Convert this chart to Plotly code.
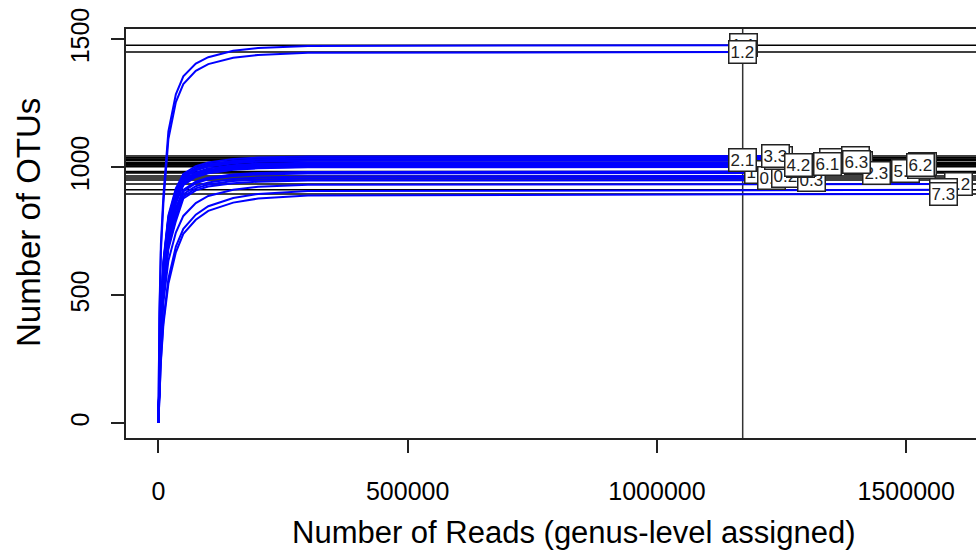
import plotly.graph_objects as go

# Subsampling depths (reads) at which rarefied richness was evaluated
depths = [1, 2000, 5000, 10000, 20000, 35000, 50000, 75000, 100000, 150000, 200000, 300000]

# Samples in the order their labels are drawn (later labels sit on top)
samples = ["1.1", "1.2", "1.3", "0.1", "2.1", "0.2", "3.2", "3.3", "0.3", "4.1", "4.2", "3.1",
           "6.1", "2.2", "5.3", "2.3", "6.3", "5.1", "4.3", "5.2", "6.2", "7.2", "7.1", "7.3"]

# Total genus-level assigned reads per sample
total_reads = [1173000, 1172000, 1203500, 1230500, 1172500, 1257000, 1243000, 1238700, 1311000,
               1287000, 1283000, 1354000, 1343000, 1398000, 1405000, 1440000, 1401200, 1497600,
               1530000, 1533000, 1527700, 1603900, 1575000, 1575700]

# Observed OTUs at full depth
final_otus = [1477, 1450, 982, 958, 1028, 966, 1036, 1044, 950, 1004, 1009, 1030,
              1013, 1037, 1015, 978, 1020, 984, 1002, 1012, 1009, 935, 912, 896]

# Rarefied OTU counts at each depth
otus_1_1 = [1, 430, 700, 890, 1140, 1285, 1355, 1405, 1430, 1455, 1466, 1474]
otus_1_2 = [1, 410, 670, 860, 1110, 1255, 1325, 1377, 1403, 1428, 1439, 1447]
otus_1_3 = [1, 190, 385, 560, 730, 840, 910, 942, 957, 970, 976, 980]
otus_0_1 = [1, 175, 355, 520, 690, 800, 885, 918, 933, 946, 952, 956]
otus_2_1 = [1, 215, 425, 610, 790, 895, 958, 988, 1003, 1016, 1022, 1026]
otus_0_2 = [1, 180, 365, 535, 705, 815, 895, 926, 941, 954, 960, 964]
otus_3_2 = [1, 225, 435, 620, 800, 905, 966, 996, 1011, 1024, 1030, 1034]
otus_3_3 = [1, 235, 450, 635, 812, 918, 974, 1004, 1019, 1032, 1038, 1042]
otus_0_3 = [1, 170, 345, 510, 680, 790, 878, 910, 925, 938, 944, 948]
otus_4_1 = [1, 200, 400, 580, 760, 865, 934, 964, 979, 992, 998, 1002]
otus_4_2 = [1, 205, 405, 585, 765, 870, 939, 969, 984, 997, 1003, 1007]
otus_3_1 = [1, 220, 430, 615, 795, 900, 960, 990, 1005, 1018, 1024, 1028]
otus_6_1 = [1, 195, 395, 578, 762, 868, 943, 973, 988, 1001, 1007, 1011]
otus_2_2 = [1, 228, 440, 625, 805, 910, 967, 997, 1012, 1025, 1031, 1035]
otus_5_3 = [1, 200, 400, 585, 768, 872, 945, 975, 990, 1003, 1009, 1013]
otus_2_3 = [1, 185, 375, 550, 722, 832, 906, 938, 953, 966, 972, 976]
otus_6_3 = [1, 205, 410, 592, 775, 880, 950, 980, 995, 1008, 1014, 1018]
otus_5_1 = [1, 185, 378, 555, 728, 838, 912, 944, 959, 972, 978, 982]
otus_4_3 = [1, 195, 395, 576, 758, 862, 930, 962, 977, 990, 996, 1000]
otus_5_2 = [1, 200, 402, 585, 768, 872, 942, 972, 987, 1000, 1006, 1010]
otus_6_2 = [1, 190, 390, 572, 755, 860, 937, 969, 984, 997, 1003, 1007]
otus_7_2 = [1, 150, 315, 470, 635, 745, 810, 860, 888, 912, 924, 932]
otus_7_1 = [1, 115, 250, 400, 565, 690, 760, 815, 848, 880, 896, 907]
otus_7_3 = [1, 110, 240, 385, 545, 668, 740, 795, 830, 862, 878, 890]

curve_otus = [otus_1_1, otus_1_2, otus_1_3, otus_0_1, otus_2_1, otus_0_2, otus_3_2, otus_3_3,
              otus_0_3, otus_4_1, otus_4_2, otus_3_1, otus_6_1, otus_2_2, otus_5_3, otus_2_3,
              otus_6_3, otus_5_1, otus_4_3, otus_5_2, otus_6_2, otus_7_2, otus_7_1, otus_7_3]

x_ticks = [0, 500000, 1000000, 1500000]
y_ticks = [0, 500, 1000, 1500]

FONT = "Liberation Sans, Arial, sans-serif"
INK = "#222222"

fig = go.Figure()

# Rarefaction curves, flat from the last subsample out to each sample's total depth
for otus, n_reads, s_final in zip(curve_otus, total_reads, final_otus):
    fig.add_trace(go.Scatter(
        x=depths + [n_reads], y=otus + [s_final], mode="lines",
        line=dict(color="#0000ff", width=2), hoverinfo="skip", showlegend=False,
    ))

# Horizontal reference line at each sample's richness
for s_final in final_otus:
    fig.add_shape(type="line", xref="x domain", yref="y", x0=0, x1=1, y0=s_final, y1=s_final,
                  line=dict(color="black", width=1.5), layer="below")

# Vertical line at the smallest library size
fig.add_shape(type="line", xref="x", yref="y domain", x0=min(total_reads), x1=min(total_reads),
              y0=0, y1=1, line=dict(color="#333333", width=1.5), layer="below")

# Boxed sample labels at the end of each curve
for name, n_reads, s_final in zip(samples, total_reads, final_otus):
    fig.add_annotation(x=n_reads, y=s_final, text=name, showarrow=False,
                       font=dict(family=FONT, size=17, color=INK),
                       bgcolor="white", bordercolor=INK, borderwidth=1.5, borderpad=1)

# Axis titles
fig.add_annotation(xref="paper", yref="paper", x=0.526, y=-0.232, xanchor="center", yanchor="middle",
                   text="Number of Reads (genus-level assigned)", showarrow=False,
                   font=dict(family=FONT, size=31, color="black"))
fig.add_annotation(xref="paper", yref="paper", x=-0.1153, y=0.528, xanchor="center", yanchor="middle",
                   text="Number of OTUs", textangle=-90, showarrow=False,
                   font=dict(family=FONT, size=33, color="black"))

fig.update_layout(
    width=976, height=555,
    margin=dict(l=126, r=0, t=29, b=117),
    paper_bgcolor="white", plot_bgcolor="white",
    font=dict(family=FONT, color=INK),
    showlegend=False,
    xaxis=dict(
        range=[-65000, 1640000], tickvals=x_ticks, tickformat="d",
        showgrid=False, zeroline=False, showline=True, mirror=True,
        linecolor=INK, linewidth=1.5, ticks="outside", ticklen=13, tickwidth=1.5, tickcolor=INK,
        ticklabelstandoff=17,
        tickfont=dict(family=FONT, size=25, color="black"),
        automargin=False,
    ),
    yaxis=dict(
        range=[-57.4, 1540.2], tickvals=y_ticks, tickformat="d", tickangle=-90,
        showgrid=False, zeroline=False, showline=True, mirror=False,
        linecolor=INK, linewidth=1.5, ticks="outside", ticklen=13, tickwidth=1.5, tickcolor=INK,
        ticklabelstandoff=12,
        tickfont=dict(family=FONT, size=25, color="black"),
        automargin=False,
    ),
)

fig.write_html("out.html")
